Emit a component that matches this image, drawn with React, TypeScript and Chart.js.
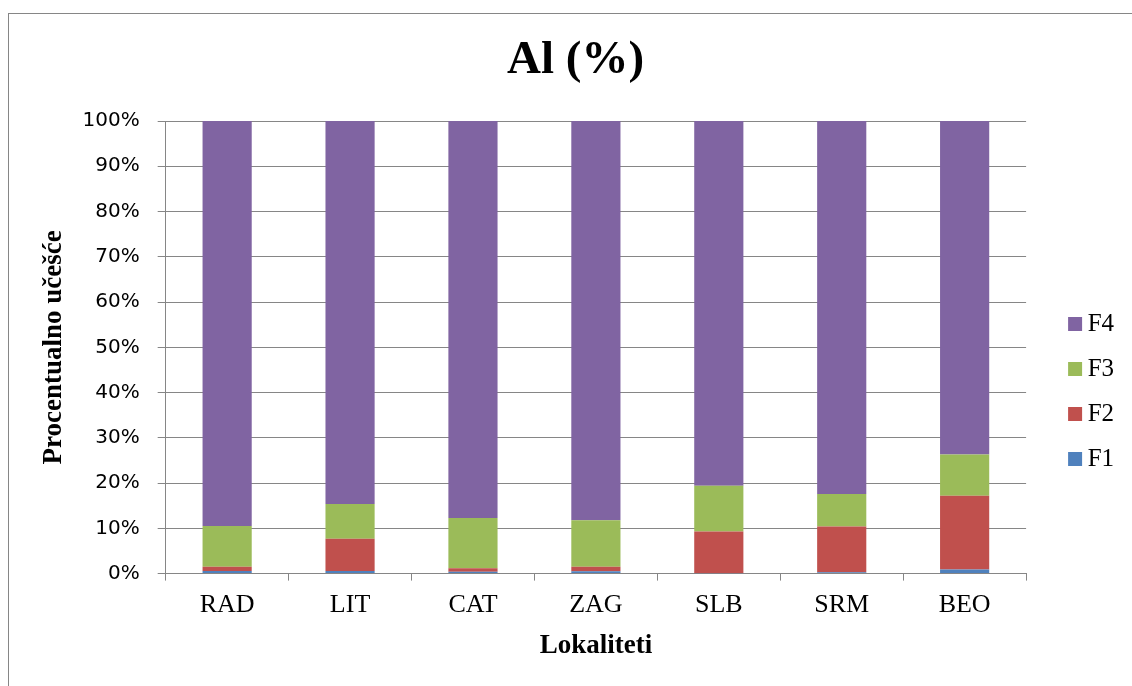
import React, { useEffect, useRef } from 'react';
import { Chart, registerables } from 'chart.js';

Chart.register(...registerables);

const categories = ['RAD', 'LIT', 'CAT', 'ZAG', 'SLB', 'SRM', 'BEO'];
const seriesNames = ['F1', 'F2', 'F3', 'F4'];
const f1Values = [0.6, 0.6, 0.4, 0.5, 0.1, 0.3, 0.9];
const f2Values = [0.9, 7.1, 0.8, 1.0, 9.2, 10.1, 16.3];
const f3Values = [9.0, 7.7, 11.1, 10.3, 10.1, 7.2, 9.1];
const f4Values = [89.5, 84.6, 87.7, 88.2, 80.6, 82.4, 73.7];
const seriesColors = ['#4F81BD', '#C0504D', '#9BBB59', '#8064A2'];
const yTickStep = 10;
const yMax = 100;

const titleText = 'Al (%)';
const xTitle = 'Lokaliteti';
const yTitle = 'Procentualno učešće';

const GRID = '#868686';
const SERIF = '"Liberation Serif", "Times New Roman", serif';
const SANS = '"DejaVu Sans", sans-serif';

const boxPlacer = {
  id: 'boxPlacer',
  afterLayout(chart: any) {
    const ca = chart.chartArea;
    const t = chart.titleBlock;
    if (t) {
      t.left = 0;
      t.right = chart.width;
      t.width = chart.width;
    }
    const lg = chart.legend;
    if (!lg || !ca) return;
    lg.left = ca.right + 22;
    lg.right = lg.left + 66;
    lg.top = ca.top + 170.5;
    lg.bottom = lg.top + 220;
  },
};

export default function App() {
  const canvasRef = useRef<HTMLCanvasElement | null>(null);

  useEffect(() => {
    if (!canvasRef.current) return;
    const values = [f1Values, f2Values, f3Values, f4Values];
    const chart = new Chart(canvasRef.current, {
      type: 'bar',
      data: {
        labels: categories,
        datasets: seriesNames.map((name, i) => ({
          label: name,
          data: values[i],
          backgroundColor: seriesColors[i],
          borderWidth: 0,
          categoryPercentage: 1,
          barPercentage: 0.4,
        })),
      },
      plugins: [boxPlacer],
      options: {
        animation: false,
        responsive: true,
        maintainAspectRatio: false,
        layout: { padding: { left: 0, right: 33, top: 0, bottom: 0 } },
        plugins: {
          title: {
            display: true,
            text: titleText,
            color: '#000',
            font: { family: SERIF, size: 47, weight: 'bold' },
            padding: { top: 19, bottom: 31.6 },
          },
          legend: {
            display: true,
            position: 'right',
            align: 'start',
            reverse: true,
            fullSize: false,
            labels: {
              boxWidth: 14,
              boxHeight: 14,
              padding: 20,
              color: '#000',
              textAlign: 'right',
              font: { family: SERIF, size: 25 },
            },
          },
          tooltip: { enabled: false },
        },
        scales: {
          x: {
            stacked: true,
            grid: {
              display: true,
              drawOnChartArea: false,
              drawTicks: true,
              tickLength: 7,
              offset: true,
              color: GRID,
            },
            border: { display: true, color: GRID },
            ticks: {
              color: '#000',
              padding: 9,
              font: { family: SERIF, size: 26 },
            },
            title: {
              display: true,
              text: xTitle,
              color: '#000',
              font: { family: SERIF, size: 27, weight: 'bold' },
              padding: { top: 0, bottom: 51.8 },
            },
          },
          y: {
            stacked: true,
            min: 0,
            max: yMax,
            ticks: {
              stepSize: yTickStep,
              color: '#000',
              padding: 18,
              font: { family: SANS, size: 20 },
              callback: (v: any) => `${v}%`,
            },
            grid: {
              display: true,
              color: GRID,
              drawTicks: true,
              tickLength: 8,
            },
            border: { display: true, color: GRID },
            title: {
              display: true,
              text: yTitle,
              color: '#000',
              font: { family: SERIF, size: 27, weight: 'bold' },
              padding: { top: 28.8, bottom: -5.7 },
            },
          },
        },
      },
    });
    return () => chart.destroy();
  }, []);

  return (
    <div
      style={{
        position: 'absolute',
        left: 8,
        top: 13,
        width: 1124,
        height: 673,
        overflow: 'hidden',
        boxSizing: 'border-box',
        borderLeft: `1px solid ${GRID}`,
        borderTop: `1px solid ${GRID}`,
        background: '#fff',
      }}
    >
      <div style={{ position: 'relative', width: 1133, height: 700 }}>
        <canvas ref={canvasRef} />
      </div>
    </div>
  );
}
